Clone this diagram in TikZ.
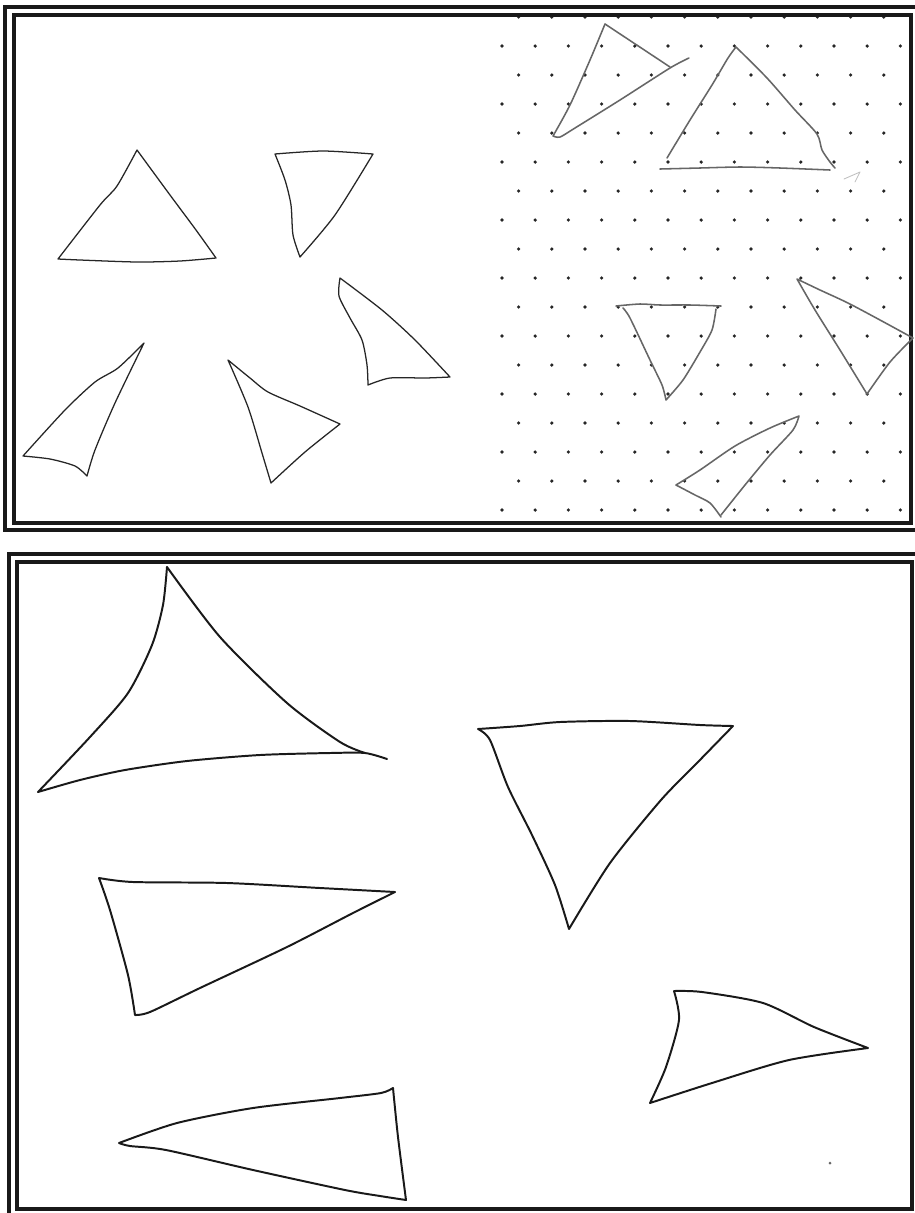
\documentclass[tikz,border=0pt]{standalone}
\usepackage{tikz}

\begin{document}
\begin{tikzpicture} [x=0.025cm, y=-0.025cm,
  frame/.style={line width=2.4pt, draw=black!90},
  pen/.style={line width=0.9pt, draw=black!85, line join=round, line cap=round},
  pencil/.style={line width=1.1pt, draw=black!60, line join=round, line cap=round},
  marker/.style={line width=1.4pt, draw=black!90, line join=round, line cap=round},
  curve/.style={smooth, tension=0.45},
  griddot/.style={fill=black!85}]
  \clip (0,0) rectangle (915,1213);
  \fill[white] (0,0) rectangle (915,1213);

  % dot paper in the upper right
  \foreach \r in {-1,...,16}
    \foreach \c in {0,...,12}
       {\pgfmathsetmacro{\dx}{mod(\r+2,2)*16.6}
       \fill[griddot] (502+\dx+33.2*\c, 46+29*\r) circle (1.8);}

  % double frames
  \draw[frame] (5,7) rectangle (918,530);
  \draw[frame] (14,15) rectangle (911,523);
  \draw[frame] (9,554) rectangle (920,1217);
  \draw[frame] (17,562) rectangle (912,1209);

  % upper panel, plain paper
  \draw[pen] plot[curve] coordinates {(58,259) (100,205) (117,186) (137,150)}
    -- plot[curve] coordinates {(137,150) (170,195) (196,230) (216,258)}
    -- plot[curve] coordinates {(216,258) (180,261) (137,262) (80,260) (58,259)};
  \draw[pen] plot[curve] coordinates {(275,154) (323,151) (373,154)}
    -- plot[curve] coordinates {(373,154) (335,215) (300,257)}
    -- plot[curve] coordinates {(300,257) (293,235) (291,205) (285,180) (275,154)};
  \draw[pen] plot[curve] coordinates {(340,278) (339,296) (350,318) (362,340) (367,365) (368,385)}
    -- plot[curve] coordinates {(368,385) (390,378) (425,378) (450,377)}
    -- plot[curve] coordinates {(450,377) (415,340) (382,310) (340,278)};
  \draw[pen] plot[curve] coordinates {(144,343) (118,368) (95,382) (65,410) (23,456)}
    -- plot[curve] coordinates {(23,456) (50,459) (75,466) (87,476)}
    -- plot[curve] coordinates {(87,476) (95,450) (115,403) (144,343)};
  \draw[pen] plot[curve] coordinates {(228,360) (250,378) (268,392) (300,406) (340,424)}
    -- plot[curve] coordinates {(340,424) (305,452) (271,483)}
    -- plot[curve] coordinates {(271,483) (262,453) (248,407) (228,360)};

  % upper panel, dot paper
  \draw[pencil] (605,24) -- (670,67);
  \draw[pencil] plot[curve] coordinates {(689,58) (670,68) (620,100) (575,128) (560,137) (553,136)}
    -- plot[curve] coordinates {(553,136) (570,105) (590,60) (605,24)};
  \draw[pencil] plot[curve] coordinates {(667,158) (690,120) (712,85) (728,58) (736,47)}
    -- plot[curve] coordinates {(736,47) (767,78) (795,110) (817,134) (822,150) (830,162) (835,168)};
  \draw[pencil] plot[curve] coordinates {(660,169) (700,168) (740,167) (780,168) (830,170)};
  \draw[pencil, draw=black!25, line width=0.6pt] (844,179) -- (860,172) -- (855,182);
  \draw[pencil] plot[curve] coordinates {(616,306) (640,304) (660,305) (690,305) (721,306)};
  \draw[pencil] plot[curve] coordinates {(716,309) (712,330) (700,352) (683,380) (666,400)}
    -- plot[curve] coordinates {(666,400) (662,385) (650,360) (630,318) (623,308)};
  \draw[pencil] plot[curve] coordinates {(797,279) (820,290) (848,303) (880,320) (913,338)}
    -- plot[curve] coordinates {(913,338) (890,362) (867,394)}
    -- plot[curve] coordinates {(867,394) (840,350) (815,310) (797,279)};
  \draw[pencil] plot[curve] coordinates {(676,485) (700,470) (735,446) (770,428) (799,416)}
    -- plot[curve] coordinates {(799,416) (793,430) (770,455) (745,485) (721,515)};
  \draw[pencil] plot[curve] coordinates {(676,485) (695,495) (710,503) (721,517)};

  % lower panel
  \draw[marker] plot[curve] coordinates {(167,567) (163,605) (152,645) (128,693) (90,737) (38,792)}
    -- plot[curve] coordinates {(38,792) (80,780) (125,770) (187,761) (260,755) (330,753) (365,753) (387,759)};
  \draw[marker] plot[curve] coordinates {(167,567) (220,637) (287,703) (340,742) (365,753)};
  \draw[marker] plot[curve] coordinates {(478,729) (520,726) (560,722) (630,721) (700,725) (733,726)}
    -- plot[curve] coordinates {(733,726) (697,763) (661,800) (610,863) (569,929)}
    -- plot[curve] coordinates {(569,929) (555,885) (532,835) (508,787) (490,740) (478,729)};
  \draw[marker] plot[curve] coordinates {(99,878) (133,882) (227,883) (320,888) (395,892)}
    -- plot[curve] coordinates {(395,892) (353,913) (287,947) (200,988) (150,1012) (135,1015)}
    -- plot[curve] coordinates {(135,1015) (128,975) (110,910) (99,878)};
  \draw[marker] plot[curve] coordinates {(674,991) (702,992) (763,1003) (814,1027) (868,1048)}
    -- plot[curve] coordinates {(868,1048) (789,1060) (712,1083) (650,1103)}
    -- plot[curve] coordinates {(650,1103) (666,1067) (679,1020) (674,991)};
  \draw[marker] plot[curve] coordinates {(119,1143) (177,1123) (253,1108) (340,1098) (381,1093) (393,1088)}
    -- plot[curve] coordinates {(393,1088) (398,1137) (406,1200)}
    -- plot[curve] coordinates {(406,1200) (380,1196) (345,1190) (253,1170) (166,1150) (130,1146) (119,1143)};
  \fill[black!60] (830,1163) circle (1.5);

\end{tikzpicture}
\end{document}
